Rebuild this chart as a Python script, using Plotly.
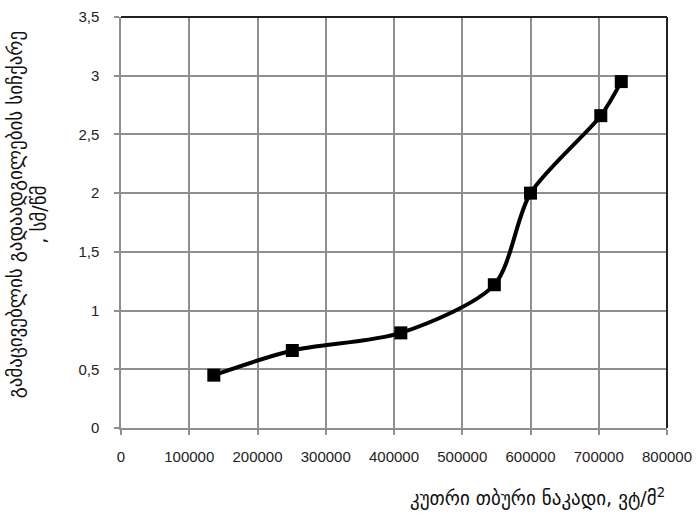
import plotly.graph_objects as go

heat_flux = [136000, 251000, 410000, 547000, 600000, 703000, 733000]
velocity = [0.45, 0.66, 0.81, 1.22, 2.0, 2.66, 2.95]

x_ticks = [0, 100000, 200000, 300000, 400000, 500000, 600000, 700000, 800000]
y_ticks = [0, 0.5, 1, 1.5, 2, 2.5, 3, 3.5]
y_tick_labels = ["0", "0,5", "1", "1,5", "2", "2,5", "3", "3,5"]

x_title = "კუთრი თბური ნაკადი, ვტ/მ<sup>2</sup>"
y_title = "გამაცივებლის გადაადგილების სიჩქარე<br>, სმ/წმ"

fig = go.Figure()
fig.add_trace(go.Scatter(
    x=heat_flux, y=velocity, mode="lines+markers",
    line=dict(color="black", width=4, shape="spline", smoothing=0.8),
    marker=dict(symbol="square", size=13, color="black"),
    showlegend=False,
))

grid = "#8f8f8f"
tickfont = dict(family="Liberation Sans, Arial, sans-serif", size=15, color="#222")
fig.update_layout(
    width=697, height=519,
    margin=dict(l=121, r=30, t=17, b=91),
    paper_bgcolor="white", plot_bgcolor="white",
    font=dict(family="Liberation Sans, Arial, sans-serif", size=15, color="#222"),
    xaxis=dict(
        range=[0, 800000], tickvals=x_ticks, ticktext=[str(v) for v in x_ticks],
        tickfont=tickfont, automargin=False,
        showgrid=True, gridcolor=grid, gridwidth=1.5,
        showline=True, linecolor=grid, linewidth=1.5,
        ticks="outside", ticklen=5, tickcolor=grid, tickwidth=1.5,
        ticklabelstandoff=9, zeroline=False,
    ),
    yaxis=dict(
        range=[0, 3.5], tickvals=y_ticks, ticktext=y_tick_labels,
        tickfont=tickfont, automargin=False,
        showgrid=True, gridcolor=grid, gridwidth=1.5,
        showline=True, linecolor=grid, linewidth=1.5,
        ticks="outside", ticklen=5, tickcolor=grid, tickwidth=1.5,
        ticklabelstandoff=12, zeroline=False,
    ),
    shapes=[
        dict(type="line", xref="paper", yref="paper", x0=0, x1=1, y0=1, y1=1,
             line=dict(color="#222", width=2)),
        dict(type="line", xref="paper", yref="paper", x0=1, x1=1, y0=0, y1=1,
             line=dict(color="#222", width=2)),
    ],
    annotations=[
        dict(text=x_title, xref="paper", yref="paper", x=1.0, y=-0.135,
             xanchor="right", yanchor="top", showarrow=False,
             font=dict(family="DejaVu Sans", size=19, color="#111")),
        dict(text=y_title, xref="paper", yref="paper", x=-0.172, y=0.52,
             xanchor="center", yanchor="middle", showarrow=False, textangle=-90,
             font=dict(family="DejaVu Sans", size=19, color="#111")),
    ],
)

fig.write_html("out.html", config={"displayModeBar": False},
               post_script="document.body.style.margin='0';")
